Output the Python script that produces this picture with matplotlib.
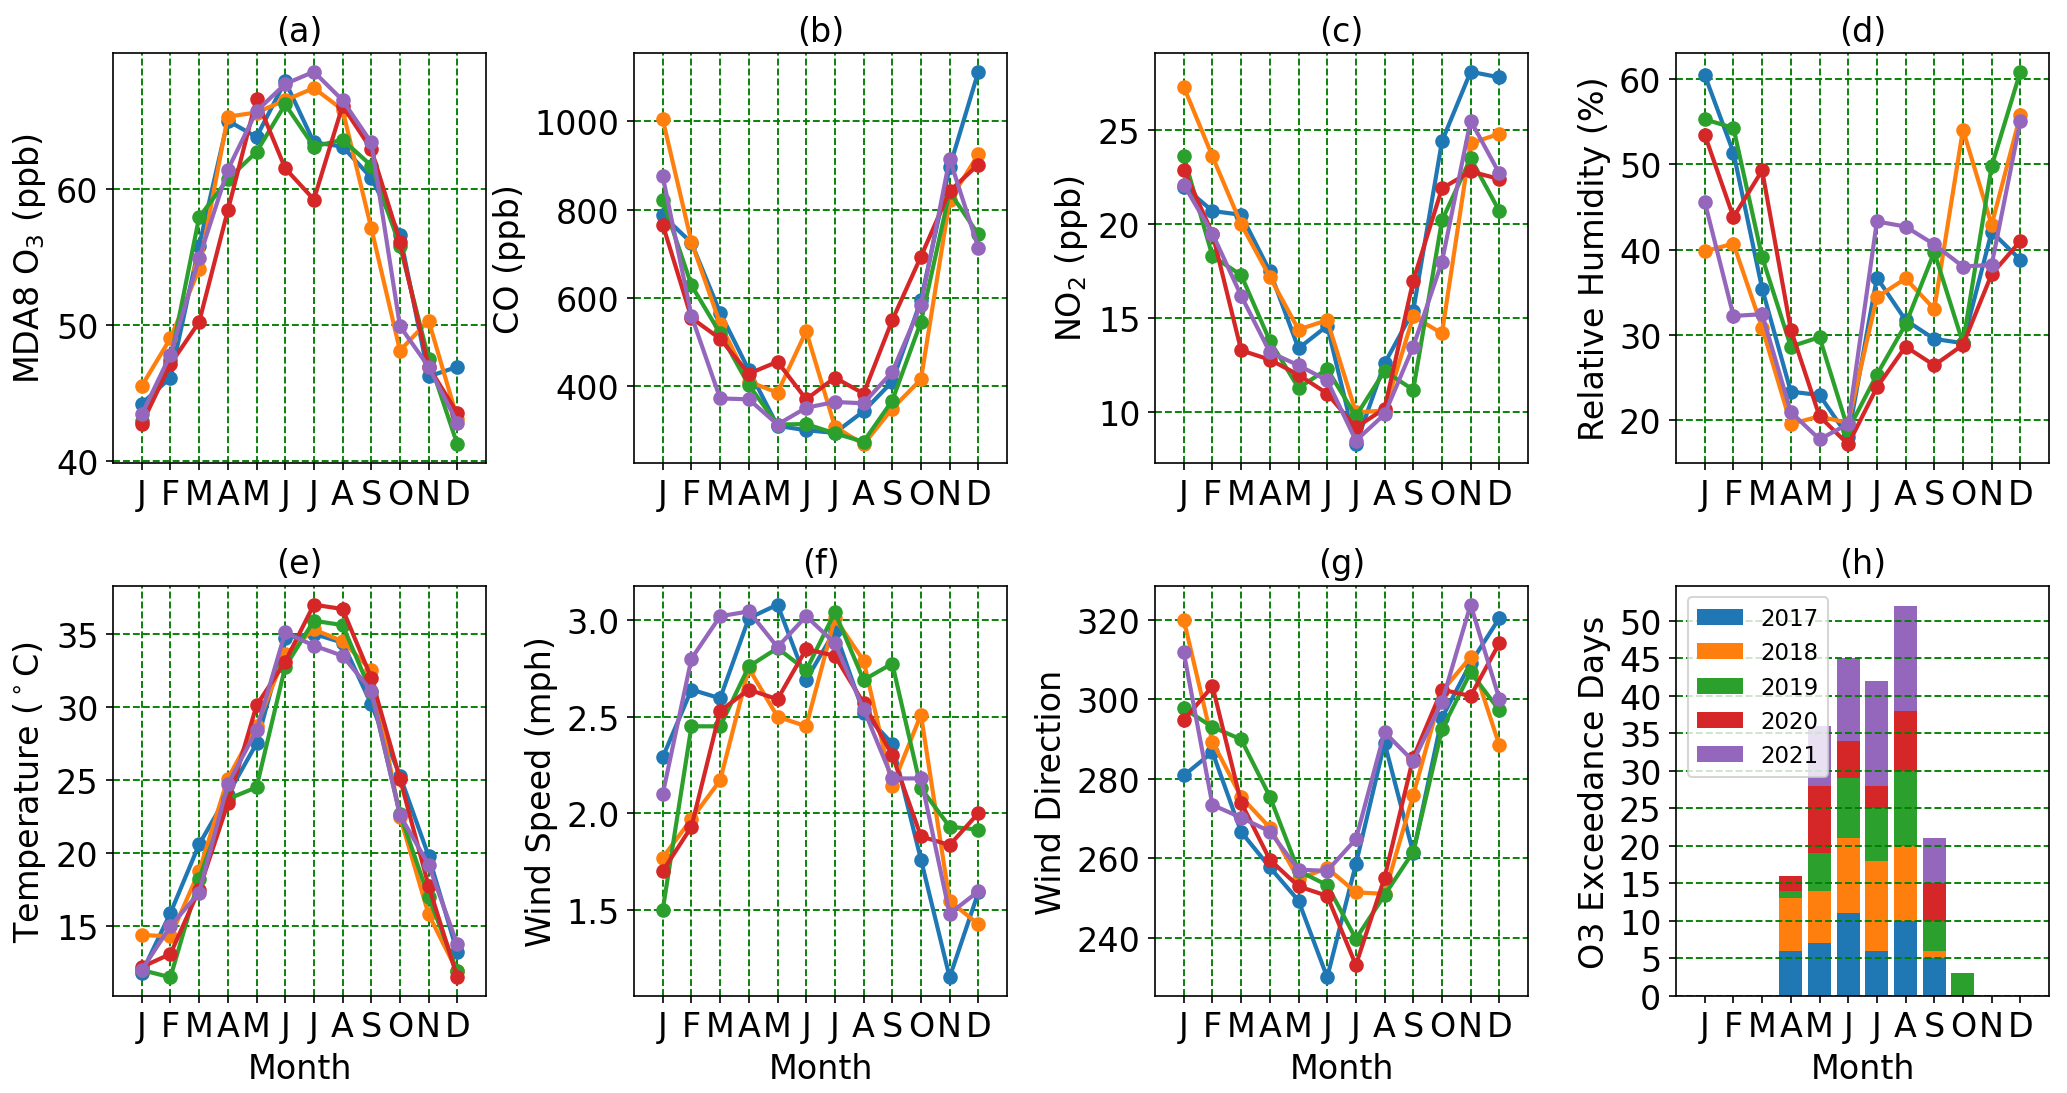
import numpy as np
import matplotlib
matplotlib.use('Agg')
import matplotlib.pyplot as plt

plt.rcParams['font.size'] = 16

months = np.arange(1, 13)
month_labels = ['J', 'F', 'M', 'A', 'M', 'J', 'J', 'A', 'S', 'O', 'N', 'D']
years = ['2017', '2018', '2019', '2020', '2021']

# (a) MDA8 O3 (ppb)
o3_2017 = [44.2, 46.1, 55.8, 65.0, 63.8, 67.9, 63.4, 63.1, 60.8, 56.6, 46.2, 46.9]
o3_2018 = [45.5, 49.0, 54.1, 65.3, 65.6, 66.5, 67.4, 65.8, 57.1, 48.1, 50.3, 43.1]
o3_2019 = [42.9, 47.4, 57.9, 60.7, 62.7, 66.2, 63.1, 63.6, 61.7, 55.8, 47.5, 41.2]
o3_2020 = [42.7, 47.1, 50.2, 58.4, 66.6, 61.5, 59.2, 66.1, 62.9, 56.1, 46.9, 43.5]
o3_2021 = [43.4, 47.8, 54.9, 61.4, 65.7, 67.7, 68.6, 66.5, 63.4, 49.9, 46.9, 42.8]

# (b) CO (ppb)
co_2017 = [787, 725, 567, 437, 311, 301, 295, 344, 411, 595, 896, 1112]
co_2018 = [1004, 727, 542, 411, 386, 525, 309, 269, 350, 416, 821, 925]
co_2019 = [821, 629, 520, 403, 314, 315, 294, 275, 368, 546, 840, 744]
co_2020 = [766, 555, 508, 429, 456, 371, 420, 384, 550, 694, 842, 902]
co_2021 = [875, 560, 373, 371, 314, 352, 365, 362, 433, 585, 915, 714]

# (c) NO2 (ppb)
no2_2017 = [22.0, 20.7, 20.5, 17.5, 13.4, 14.6, 8.3, 12.6, 15.4, 24.4, 28.1, 27.8]
no2_2018 = [27.3, 23.6, 20.0, 17.2, 14.4, 14.9, 10.0, 10.1, 15.1, 14.2, 24.3, 24.8]
no2_2019 = [23.6, 18.3, 17.3, 13.8, 11.3, 12.3, 9.8, 12.2, 11.2, 20.2, 23.5, 20.7]
no2_2020 = [22.9, 19.5, 13.3, 12.8, 12.0, 11.0, 9.2, 10.2, 17.0, 21.9, 22.8, 22.4]
no2_2021 = [22.1, 19.5, 16.2, 13.2, 12.5, 11.7, 8.5, 9.9, 13.5, 18.0, 25.5, 22.7]

# (d) Relative humidity (%)
rh_2017 = [60.5, 51.4, 35.4, 23.3, 22.9, 18.0, 36.7, 31.7, 29.5, 29.0, 42.1, 38.8]
rh_2018 = [39.8, 40.7, 30.8, 19.5, 20.4, 19.6, 34.4, 36.6, 33.0, 54.1, 42.9, 55.8]
rh_2019 = [55.3, 54.3, 39.1, 28.6, 29.7, 18.8, 25.3, 31.2, 39.7, 29.0, 49.8, 60.9]
rh_2020 = [53.5, 43.8, 49.3, 30.6, 20.4, 17.1, 23.8, 28.6, 26.4, 28.8, 37.1, 41.0]
rh_2021 = [45.6, 32.2, 32.4, 20.9, 17.7, 19.5, 43.3, 42.7, 40.6, 38.0, 38.2, 55.1]

# (e) Temperature (C)
t_2017 = [11.8, 15.9, 20.6, 24.0, 27.5, 34.7, 35.0, 34.4, 30.2, 25.3, 19.8, 13.2]
t_2018 = [14.4, 14.3, 18.75, 25.1, 28.7, 33.6, 35.3, 34.5, 32.5, 22.5, 15.8, 11.9]
t_2019 = [12.0, 11.5, 18.25, 23.7, 24.5, 32.75, 35.9, 35.6, 31.0, 22.7, 17.0, 11.9]
t_2020 = [12.2, 13.1, 17.5, 23.4, 30.1, 33.1, 37.0, 36.7, 32.0, 25.1, 17.75, 11.5]
t_2021 = [12.0, 15.0, 17.3, 24.7, 28.4, 35.1, 34.2, 33.5, 31.1, 22.6, 19.2, 13.75]

# (f) Wind speed (mph)
ws_2017 = [2.29, 2.64, 2.595, 3.01, 3.08, 2.69, 2.945, 2.52, 2.36, 1.76, 1.15, 1.59]
ws_2018 = [1.77, 1.97, 2.17, 2.75, 2.50, 2.45, 3.01, 2.79, 2.14, 2.51, 1.545, 1.425]
ws_2019 = [1.50, 2.45, 2.45, 2.76, 2.855, 2.74, 3.04, 2.69, 2.775, 2.13, 1.93, 1.915]
ws_2020 = [1.70, 1.93, 2.53, 2.64, 2.59, 2.85, 2.815, 2.57, 2.30, 1.88, 1.835, 2.00]
ws_2021 = [2.10, 2.80, 3.02, 3.045, 2.86, 3.02, 2.88, 2.54, 2.18, 2.18, 1.48, 1.595]

# (g) Wind direction
wd_2017 = [280.8, 286.7, 266.6, 257.7, 249.3, 230.0, 258.5, 289.0, 261.3, 295.3, 309.1, 320.4]
wd_2018 = [320.0, 289.3, 275.4, 267.7, 254.7, 257.5, 251.4, 251.0, 275.9, 302.0, 310.6, 288.4]
wd_2019 = [297.7, 293.0, 289.9, 275.5, 256.8, 253.2, 239.7, 250.7, 261.6, 292.4, 306.8, 297.2]
wd_2020 = [294.7, 303.3, 274.0, 259.6, 252.9, 250.5, 233.1, 255.1, 285.3, 302.4, 300.8, 314.1]
wd_2021 = [311.8, 273.4, 270.2, 266.7, 257.1, 256.8, 264.8, 291.7, 284.4, 299.3, 323.8, 300.1]

# (h) O3 exceedance days per month
ex_2017 = [0, 0, 0, 6, 7, 11, 6, 10, 5, 0, 0, 0]
ex_2018 = [0, 0, 0, 7, 7, 10, 12, 10, 1, 0, 0, 0]
ex_2019 = [0, 0, 0, 1, 5, 8, 7, 10, 4, 3, 0, 0]
ex_2020 = [0, 0, 0, 2, 9, 5, 3, 8, 5, 0, 0, 0]
ex_2021 = [0, 0, 0, 0, 8, 11, 14, 14, 6, 0, 0, 0]

panels = [
    ('(a)', 'MDA8 O$_3$ (ppb)', [o3_2017, o3_2018, o3_2019, o3_2020, o3_2021], None),
    ('(b)', 'CO (ppb)', [co_2017, co_2018, co_2019, co_2020, co_2021], [400, 600, 800, 1000]),
    ('(c)', 'NO$_2$ (ppb)', [no2_2017, no2_2018, no2_2019, no2_2020, no2_2021], None),
    ('(d)', 'Relative Humidity (%)', [rh_2017, rh_2018, rh_2019, rh_2020, rh_2021], None),
    ('(e)', r'Temperature ($^\circ$C)', [t_2017, t_2018, t_2019, t_2020, t_2021], None),
    ('(f)', 'Wind Speed (mph)', [ws_2017, ws_2018, ws_2019, ws_2020, ws_2021], None),
    ('(g)', 'Wind Direction', [wd_2017, wd_2018, wd_2019, wd_2020, wd_2021], None),
]

fig, axes = plt.subplots(2, 4, figsize=(13.78, 7.293), dpi=150)
fig.subplots_adjust(left=0.0547, right=0.9913, top=0.9506, bottom=0.0887,
                    wspace=0.397, hspace=0.30)
axes = axes.flatten()

for i, (title, ylabel, series, yt) in enumerate(panels):
    ax = axes[i]
    for s, yr in zip(series, years):
        ax.plot(months, s, marker='o', lw=2, ms=6, label=yr)
    ax.set_title(title, fontsize=16)
    ax.set_ylabel(ylabel)
    ax.set_xlim(0, 13)
    ax.set_xticks(months)
    ax.set_xticklabels(month_labels)
    if yt is not None:
        ax.set_yticks(yt)
    ax.grid(True, color='green', linestyle='--', linewidth=0.9)
    if i >= 4:
        ax.set_xlabel('Month')

# (h) stacked bars
ax = axes[7]
bottom = np.zeros(12)
for s, yr in zip([ex_2017, ex_2018, ex_2019, ex_2020, ex_2021], years):
    ax.bar(months, s, width=0.8, bottom=bottom, label=yr)
    bottom += np.array(s)
ax.set_title('(h)', fontsize=16)
ax.set_ylabel('O3 Exceedance Days')
ax.set_xlabel('Month')
ax.set_xlim(0, 13)
ax.set_xticks(months)
ax.set_xticklabels(month_labels)
ax.set_yticks(np.arange(0, 55, 5))
ax.yaxis.grid(True, color='green', linestyle='--', linewidth=0.9)
ax.legend(loc='upper left', fontsize=11)

fig.savefig('out.png', dpi=150)
